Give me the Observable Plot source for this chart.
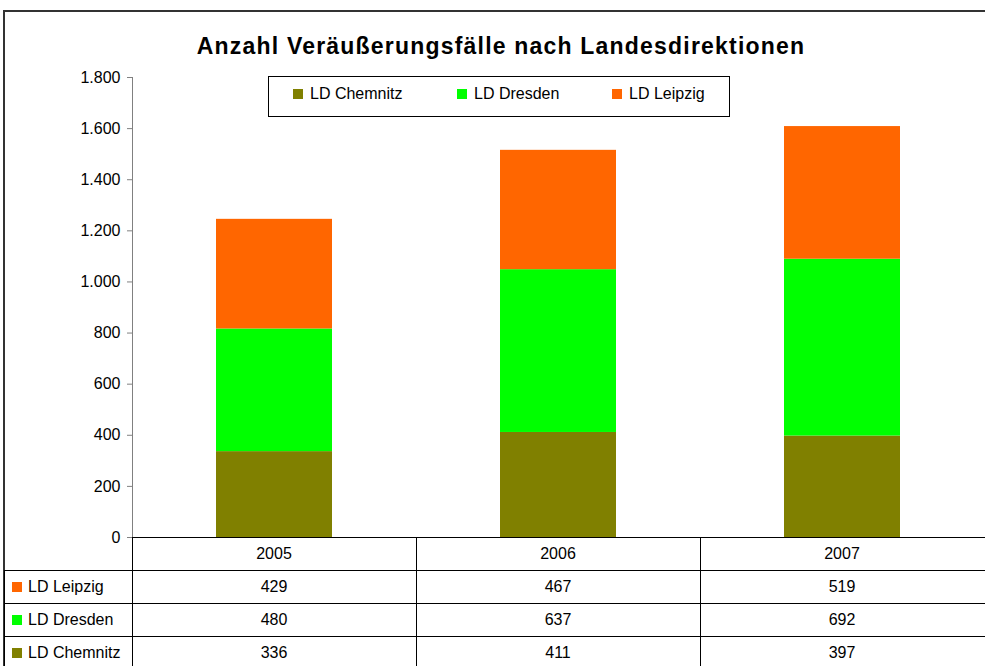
<!DOCTYPE html>
<html>
<head>
<meta charset="utf-8">
<script src="https://cdn.jsdelivr.net/npm/d3@7"></script>
<script src="https://cdn.jsdelivr.net/npm/@observablehq/plot@0.6"></script>
<style>
  html, body { margin: 0; padding: 0; background: #fff; }
  #wrap { position: relative; width: 985px; height: 666px; overflow: hidden; background: #fff;
          font-family: "Liberation Sans", Arial, sans-serif; color: #000; }
  .abs { position: absolute; }
  .txt { position: absolute; font-size: 16px; white-space: nowrap; line-height: 1; }
  .hl { position: absolute; height: 1px; background: #000; }
  .vl { position: absolute; width: 1px; background: #000; }
  .sw { position: absolute; width: 10px; height: 10px; }
</style>
</head>
<body>
<div id="wrap"></div>
<script>
const years = ["2005", "2006", "2007"];
const seriesNames = ["LD Chemnitz", "LD Dresden", "LD Leipzig"];
const seriesColors = ["#808000", "#00ff00", "#ff6600"];
const chemnitz = [336, 411, 397];
const dresden = [480, 637, 692];
const leipzig = [429, 467, 519];
const yTicks = [0, 200, 400, 600, 800, 1000, 1200, 1400, 1600, 1800];
const titleText = "Anzahl Veräußerungsfälle nach Landesdirektionen";
const tableRowOrder = ["LD Leipzig", "LD Dresden", "LD Chemnitz"];

const valuesBySeries = {"LD Chemnitz": chemnitz, "LD Dresden": dresden, "LD Leipzig": leipzig};
const colorBySeries = Object.fromEntries(seriesNames.map((s, i) => [s, seriesColors[i]]));
const data = [];
seriesNames.forEach(s => years.forEach((y, i) => data.push({year: y, series: s, value: valuesBySeries[s][i]})));

const de = d3.formatLocale({decimal: ",", thousands: ".", grouping: [3], currency: ["", " €"]});
const fmt = de.format(",");

const wrap = document.getElementById("wrap");

// outer chart border
const border = document.createElement("div");
border.className = "abs";
Object.assign(border.style, {left: "3px", top: "10px", width: "1100px", height: "800px",
  border: "2px solid #333", boxSizing: "border-box"});
wrap.appendChild(border);

// title
const title = document.createElement("div");
title.className = "abs";
Object.assign(title.style, {left: "0px", top: "35px", width: "1002px", textAlign: "center",
  fontSize: "23px", fontWeight: "bold", letterSpacing: "1.2px", lineHeight: "1", whiteSpace: "nowrap"});
title.textContent = titleText;
wrap.appendChild(title);

// chart
const chart = Plot.plot({
  width: 985,
  height: 480,
  marginTop: 17,
  marginBottom: 3,
  marginLeft: 132,
  marginRight: 0,
  style: {fontFamily: "'Liberation Sans', Arial, sans-serif", background: "transparent", overflow: "visible"},
  x: {domain: years, paddingInner: 0.59, paddingOuter: 0.295, axis: null},
  y: {domain: [0, 1800], axis: null},
  color: {domain: seriesNames, range: seriesColors},
  marks: [
    Plot.barY(data, {x: "year", y: "value", fill: "series"}),
    Plot.frame({anchor: "left", stroke: "#808080"}),
    Plot.axisY({ticks: yTicks, tickFormat: fmt, tickSize: 5, tickPadding: 7, stroke: "#808080",
                fill: "#000", fontSize: 16, label: null}),
    Plot.ruleY([0], {stroke: "#000", strokeWidth: 1.2})
  ]
});
chart.style.position = "absolute";
chart.style.left = "0px";
chart.style.top = "60px";
wrap.appendChild(chart);

// legend
const legend = document.createElement("div");
legend.className = "abs";
Object.assign(legend.style, {left: "268px", top: "76px", width: "462px", height: "41px",
  border: "1px solid #000", boxSizing: "border-box", background: "#fff"});
wrap.appendChild(legend);
const legendX = [293, 457, 612];
seriesNames.forEach((s, i) => {
  const sw = document.createElement("div");
  sw.className = "sw";
  Object.assign(sw.style, {left: legendX[i] + "px", top: "89px", background: colorBySeries[s]});
  wrap.appendChild(sw);
  const t = document.createElement("div");
  t.className = "txt";
  Object.assign(t.style, {left: (legendX[i] + 17) + "px", top: "86px"});
  t.textContent = s;
  wrap.appendChild(t);
});

// data table below the chart, columns aligned with the chart's band scale
const xs = chart.scale("x");
const step = xs.step !== undefined ? xs.step : (xs.range[1] - xs.range[0]) / years.length;
const bw = xs.bandwidth;
const colLeft = y => xs.apply(y) - (step - bw) / 2;
const tableTop = 537;
const rowH = 33;
const leftEdge = 4;
const plotLeft = 132;
function hl(x1, x2, y) {
  const d = document.createElement("div"); d.className = "hl";
  Object.assign(d.style, {left: x1 + "px", width: (x2 - x1) + "px", top: y + "px"}); wrap.appendChild(d);
}
function vl(x, y1, y2) {
  const d = document.createElement("div"); d.className = "vl";
  Object.assign(d.style, {left: x + "px", top: y1 + "px", height: (y2 - y1) + "px"}); wrap.appendChild(d);
}
function cellText(txt, cx, cy, anchor) {
  const t = document.createElement("div"); t.className = "txt";
  t.textContent = txt;
  if (anchor === "middle") {
    Object.assign(t.style, {left: (cx - 100) + "px", width: "200px", textAlign: "center", top: (cy - 8) + "px"});
  } else {
    Object.assign(t.style, {left: cx + "px", top: (cy - 8) + "px"});
  }
  wrap.appendChild(t);
}
// header row (years)
years.forEach(y => cellText(y, xs.apply(y) + bw / 2, tableTop + rowH / 2, "middle"));
// horizontal lines
for (let r = 1; r <= tableRowOrder.length; r++) hl(leftEdge, 985, tableTop + r * rowH);
// vertical lines
vl(Math.round(plotLeft), tableTop, 666);
years.forEach((y, i) => { if (i > 0) vl(Math.round(colLeft(y)), tableTop, 666); });
vl(leftEdge, tableTop + rowH, 666);
// rows
tableRowOrder.forEach((s, r) => {
  const cy = tableTop + rowH * (r + 1) + rowH / 2;
  const sw = document.createElement("div"); sw.className = "sw";
  Object.assign(sw.style, {left: "12px", top: (cy - 5) + "px", background: colorBySeries[s]});
  wrap.appendChild(sw);
  cellText(s, 28, cy, "start");
  years.forEach((y, i) => cellText(String(valuesBySeries[s][i]), xs.apply(y) + bw / 2, cy, "middle"));
});
</script>
</body>
</html>
